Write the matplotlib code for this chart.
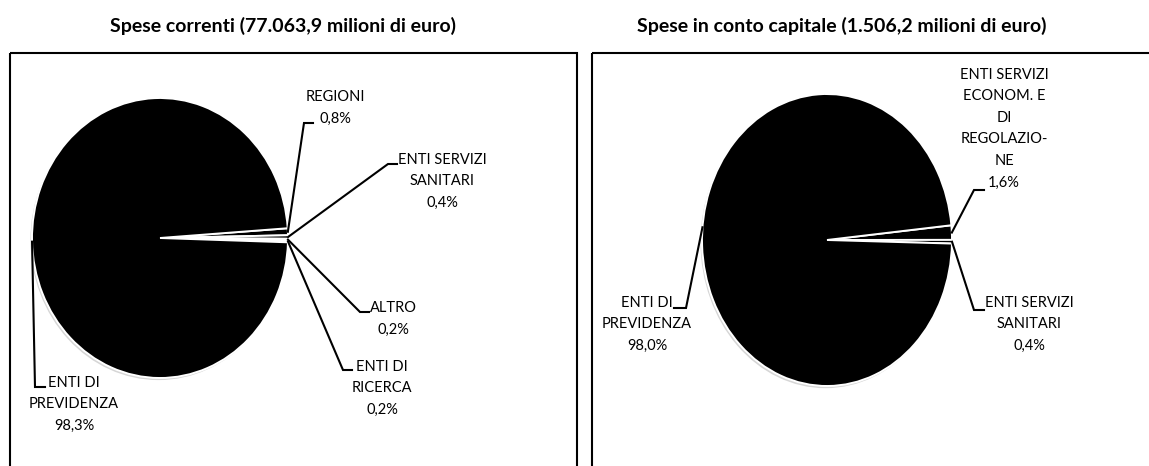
#!/usr/bin/env python3
"""Two black pie charts: spese correnti vs spese in conto capitale."""

import matplotlib
matplotlib.use('Agg')
import matplotlib.pyplot as plt
import numpy as np
from matplotlib.patches import Ellipse, Rectangle

W, H = 1149, 466

# data
cur_labels = ['REGIONI', 'ENTI SERVIZI\nSANITARI', 'ALTRO', 'ENTI DI\nRICERCA', 'ENTI DI\nPREVIDENZA']
cur_values = [0.8, 0.4, 0.2, 0.2, 98.3]
cur_pct = ['0,8%', '0,4%', '0,2%', '0,2%', '98,3%']
cur_title = 'Spese correnti (77.063,9 milioni di euro)'

cap_labels = ['ENTI SERVIZI\nECONOM. E\nDI\nREGOLAZIO-\nNE', 'ENTI SERVIZI\nSANITARI', 'ENTI DI\nPREVIDENZA']
cap_values = [1.6, 0.4, 98.0]
cap_pct = ['1,6%', '0,4%', '98,0%']
cap_title = 'Spese in conto capitale (1.506,2 milioni di euro)'

plt.rcParams['font.family'] = ['Lato', 'DejaVu Sans']

fig = plt.figure(figsize=(W / 100, H / 100), dpi=100)


def px_axes(x0, y0, x1, y1):
    return fig.add_axes([x0 / W, 1 - y1 / H, (x1 - x0) / W, (y1 - y0) / H])


def draw_pie(center, rx, ry, values, start):
    cx, cy = center
    ax = px_axes(cx - rx - 6, cy - ry - 6, cx + rx + 6, cy + ry + 6)
    sx = (rx + 6) / rx
    sy = (ry + 6) / ry
    # faint shadow
    ax.add_patch(Ellipse((-0.012, -0.015), 2.0, 2.0, fc='#d6d6d6', ec='none', zorder=0))
    ax.pie(values, startangle=start, counterclock=False, colors=['black'] * len(values),
           wedgeprops=dict(edgecolor='white', linewidth=1.4))
    ax.set_aspect('auto')
    ax.set_xlim(-sx, sx)
    ax.set_ylim(-sy, sy)
    ax.axis('off')
    # mid angles of each wedge (degrees, ccw from 3 o'clock)
    cum = np.cumsum([0] + list(values))
    tot = cum[-1]
    mids = [start - 360 * (cum[i] + cum[i + 1]) / 2 / tot for i in range(len(values))]
    return mids


overlay = fig.add_axes([0, 0, 1, 1])
overlay.set_xlim(0, W)
overlay.set_ylim(H, 0)
overlay.axis('off')
overlay.set_zorder(5)

# frames
overlay.add_patch(Rectangle((10, 53), 567, 420, fill=False, ec='black', lw=1.5))
overlay.add_patch(Rectangle((592, 53), 570, 420, fill=False, ec='black', lw=1.5))

overlay.text(283, 26, cur_title, ha='center', va='center', fontsize=14, fontweight='bold')
overlay.text(842, 26, cap_title, ha='center', va='center', fontsize=14, fontweight='bold')


def leader(center, rx, ry, ang, elbow, end):
    a = np.deg2rad(ang)
    p0 = (center[0] + rx * np.cos(a), center[1] - ry * np.sin(a))
    overlay.plot([p0[0], elbow[0], end[0]], [p0[1], elbow[1], end[1]],
                 color='black', lw=1.5, solid_joinstyle='miter')


def label(x, y, name, pct):
    overlay.text(x, y, name + '\n' + pct, ha='center', va='top', fontsize=10.5,
                 linespacing=1.68, multialignment='center')


# left pie
lc, lrx, lry = (160, 238), 128, 140
lm = draw_pie(lc, lrx, lry, cur_values, 4)
leader(lc, lrx, lry, lm[0], (304, 123), (313, 123))
leader(lc, lrx, lry, lm[1], (388, 164), (397, 164))
leader(lc, lrx, lry, lm[2], (360, 312), (369, 312))
leader(lc, lrx, lry, lm[3], (343, 370), (352, 370))
leader(lc, lrx, lry, 181.5, (35, 387), (45, 387))
label(335, 90, cur_labels[0], cur_pct[0])
label(442, 153, cur_labels[1], cur_pct[1])
label(393, 301, cur_labels[2], cur_pct[2])
label(382, 360, cur_labels[3], cur_pct[3])
label(74, 376, cur_labels[4], cur_pct[4])

# right pie
rc, rrx, rry = (827, 240), 125, 146
rm = draw_pie(rc, rrx, rry, cap_values, 5.8)
leader(rc, rrx, rry, rm[0], (974, 190), (984, 190))
leader(rc, rrx, rry, rm[1], (974, 310), (984, 310))
leader(rc, rrx, rry, 175, (686, 308), (674, 308))
label(1004, 68, cap_labels[0], cap_pct[0])
label(1029, 296, cap_labels[1], cap_pct[1])
label(647, 296, cap_labels[2], cap_pct[2])

fig.savefig('out.png', dpi=100)
